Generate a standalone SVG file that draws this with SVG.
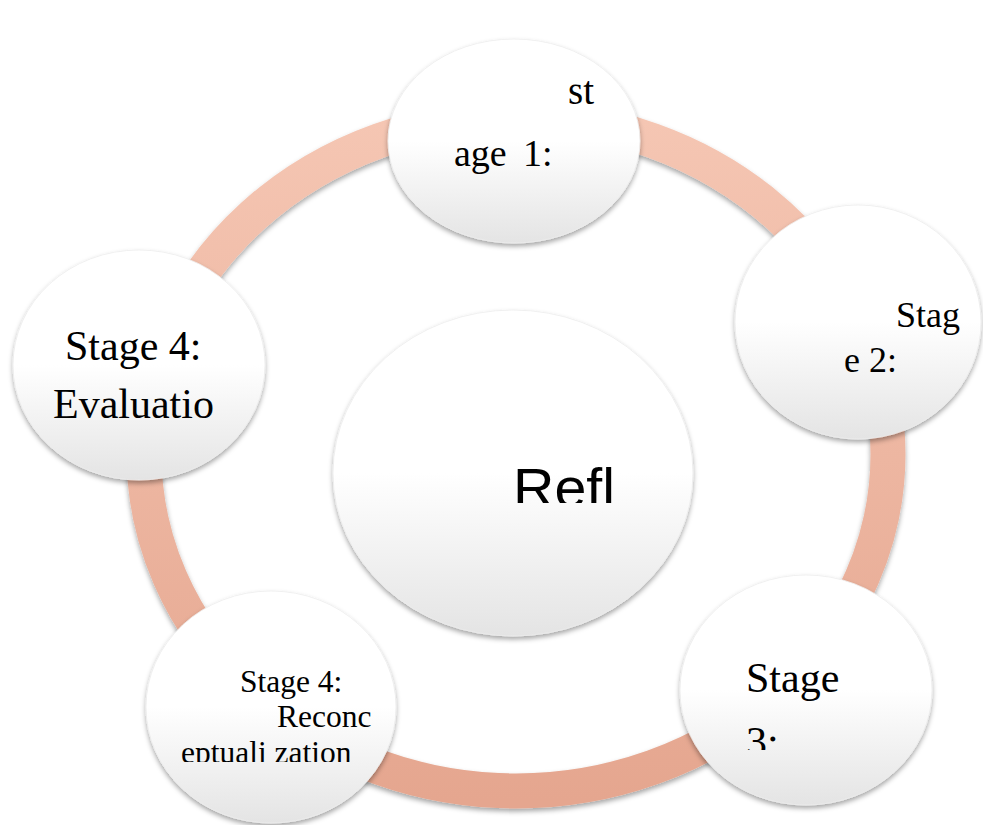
<svg xmlns="http://www.w3.org/2000/svg" width="983" height="825" viewBox="0 0 983 825">
  <defs>
    <linearGradient id="ringGrad" gradientUnits="userSpaceOnUse" x1="0" y1="118" x2="0" y2="800">
      <stop offset="0" stop-color="#F5C6B3"/>
      <stop offset="1" stop-color="#E5A68F"/>
    </linearGradient>
    <linearGradient id="nodeGrad" x1="0" y1="0" x2="0" y2="1">
      <stop offset="0" stop-color="#FFFFFF"/>
      <stop offset="0.5" stop-color="#FFFFFF"/>
      <stop offset="1" stop-color="#E4E4E4"/>
    </linearGradient>
    <filter id="shadow" x="-10%" y="-10%" width="120%" height="125%">
      <feDropShadow dx="0" dy="3" stdDeviation="2.5" flood-color="#000000" flood-opacity="0.35"/>
    </filter>
    <clipPath id="clipCenter"><rect x="330" y="300" width="370" height="203"/></clipPath>
    <clipPath id="clipS3"><rect x="680" y="575" width="260" height="175"/></clipPath>
    <clipPath id="clipS4r"><rect x="140" y="590" width="270" height="172"/></clipPath>
  </defs>
  <style>
    .node { fill: url(#nodeGrad); stroke: #EDEDED; stroke-width: 0.8; filter: url(#shadow); }
    .serif { font-family: "Liberation Serif", "Times New Roman", serif; fill: #000000; }
    .sans { font-family: "Liberation Sans", Arial, sans-serif; fill: #000000; }
  </style>

  <g id="connectors">
    <ellipse cx="516" cy="454" rx="372" ry="337" fill="none" stroke="url(#ringGrad)" stroke-width="35" filter="url(#shadow)"/>
  </g>

  <g id="center">
    <ellipse class="node" cx="513" cy="473" rx="180" ry="163"/>
    <g clip-path="url(#clipCenter)">
      <text class="sans" x="513" y="507" font-size="56" textLength="102" lengthAdjust="spacingAndGlyphs">Refl</text>
    </g>
  </g>

  <g id="stage1">
    <ellipse class="node" cx="514" cy="141" rx="126" ry="102"/>
    <text class="serif" x="568" y="104" font-size="39">st</text>
    <text class="serif" x="454" y="166" font-size="38">age</text>
    <text class="serif" x="523" y="166" font-size="38">1:</text>
  </g>

  <g id="stage2">
    <ellipse class="node" cx="858" cy="322" rx="123" ry="117"/>
    <text class="serif" x="896" y="327" font-size="36">Stag</text>
    <text class="serif" x="844" y="372" font-size="36">e 2:</text>
  </g>

  <g id="stage3">
    <ellipse class="node" cx="806" cy="690" rx="126" ry="115"/>
    <text class="serif" x="746" y="692" font-size="42">Stage</text>
    <g clip-path="url(#clipS3)">
      <text class="serif" x="746" y="756" font-size="42">3:</text>
    </g>
  </g>

  <g id="stage4-reconceptualization">
    <ellipse class="node" cx="271" cy="707" rx="125" ry="116"/>
    <text class="serif" x="240" y="692" font-size="31.5">Stage 4:</text>
    <text class="serif" x="277" y="727" font-size="31.5">Reconc</text>
    <g clip-path="url(#clipS4r)">
      <text class="serif" x="181" y="763" font-size="31.5">eptuali zation</text>
    </g>
  </g>

  <g id="stage4-evaluation">
    <ellipse class="node" cx="139" cy="365" rx="126" ry="115"/>
    <text class="serif" x="65" y="360" font-size="42">Stage 4:</text>
    <text class="serif" x="53" y="418" font-size="42">Evaluatio</text>
  </g>
</svg>
